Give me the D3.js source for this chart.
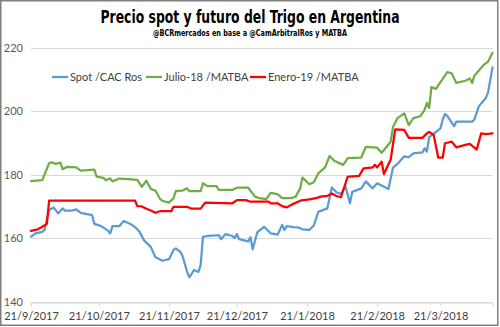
<!DOCTYPE html>
<html>
<head>
<meta charset="utf-8">
<script src="https://cdn.jsdelivr.net/npm/d3@7"></script>
<style>
  body { margin: 0; background: #fff; }
  svg { display: block; }
</style>
</head>
<body>
<div id="grafico"></div>
<script>
// Precios (U$S/t) por fecha
const spot = [
  ["2017-09-21",160.5],["2017-09-23",161.5],["2017-09-26",162.0],["2017-09-27",162.6],["2017-09-29",168.9],
  ["2017-10-01",169.7],["2017-10-03",167.8],["2017-10-05",169.4],["2017-10-06",168.7],["2017-10-09",168.7],
  ["2017-10-11",169.1],["2017-10-13",168.0],["2017-10-18",167.3],["2017-10-19",164.5],["2017-10-22",163.8],
  ["2017-10-25",162.4],["2017-10-26",161.5],["2017-10-27",163.8],["2017-10-30",163.8],["2017-11-01",165.4],
  ["2017-11-04",164.5],["2017-11-06",163.5],["2017-11-08",162.0],["2017-11-10",159.3],["2017-11-13",157.2],
  ["2017-11-15",154.0],["2017-11-16",153.7],["2017-11-18",152.9],["2017-11-21",153.4],["2017-11-23",156.3],
  ["2017-11-24",156.8],["2017-11-26",155.7],["2017-11-27",154.4],["2017-11-29",149.4],["2017-11-30",147.7],
  ["2017-12-01",148.7],["2017-12-02",150.0],["2017-12-04",149.4],["2017-12-05",151.6],["2017-12-06",160.4],
  ["2017-12-08",160.7],["2017-12-12",160.9],["2017-12-13",161.0],["2017-12-14",159.7],["2017-12-16",161.3],
  ["2017-12-19",160.7],["2017-12-20",160.0],["2017-12-21",161.3],["2017-12-22",159.7],["2017-12-26",159.0],
  ["2017-12-27",160.3],["2017-12-28",156.5],["2017-12-30",161.8],["2018-01-02",163.6],["2018-01-05",161.5],
  ["2018-01-08",161.1],["2018-01-10",164.2],["2018-01-11",162.6],["2018-01-12",163.8],["2018-01-15",163.5],
  ["2018-01-17",163.4],["2018-01-19",162.8],["2018-01-22",162.6],["2018-01-24",164.0],["2018-01-26",168.3],
  ["2018-01-30",169.4],["2018-02-01",176.0],["2018-02-03",174.5],["2018-02-05",173.9],["2018-02-07",176.3],
  ["2018-02-09",171.0],["2018-02-10",174.6],["2018-02-14",175.7],["2018-02-16",177.9],["2018-02-19",175.7],
  ["2018-02-21",177.3],["2018-02-26",175.5],["2018-02-28",182.2],["2018-03-02",183.4],["2018-03-05",185.8],
  ["2018-03-07",185.5],["2018-03-09",186.7],["2018-03-13",187.0],["2018-03-14",188.3],["2018-03-15",187.3],
  ["2018-03-16",191.8],["2018-03-19",193.5],["2018-03-21",194.6],["2018-03-22",197.4],["2018-03-23",199.1],
  ["2018-03-24",198.5],["2018-03-27",195.3],["2018-03-28",196.7],["2018-04-04",196.7],["2018-04-05",197.4],
  ["2018-04-07",201.6],["2018-04-10",204.1],["2018-04-11",205.8],["2018-04-13",213.8]
];

const julio18 = [
  ["2017-09-21",178.0],["2017-09-26",178.3],["2017-09-29",183.6],["2017-09-30",183.9],["2017-10-02",183.4],
  ["2017-10-04",183.8],["2017-10-05",181.7],["2017-10-07",182.5],["2017-10-11",182.3],["2017-10-13",181.3],
  ["2017-10-19",181.6],["2017-10-20",179.4],["2017-10-23",179.0],["2017-10-24",178.3],["2017-10-26",178.8],
  ["2017-10-27",177.9],["2017-10-30",178.8],["2017-11-03",178.6],["2017-11-07",178.4],["2017-11-09",176.2],
  ["2017-11-11",178.1],["2017-11-13",175.5],["2017-11-15",175.0],["2017-11-17",172.4],["2017-11-18",171.8],
  ["2017-11-21",171.2],["2017-11-23",172.6],["2017-11-24",174.8],["2017-11-27",175.0],["2017-11-29",175.7],
  ["2017-11-30",174.8],["2017-12-05",174.8],["2017-12-06",177.3],["2017-12-08",176.4],["2017-12-12",176.4],
  ["2017-12-13",175.2],["2017-12-19",175.2],["2017-12-21",175.9],["2017-12-26",175.9],["2017-12-29",173.1],
  ["2017-12-31",172.6],["2018-01-03",172.3],["2018-01-05",174.3],["2018-01-08",173.9],["2018-01-10",172.6],
  ["2018-01-14",172.6],["2018-01-16",173.1],["2018-01-18",175.7],["2018-01-19",179.1],["2018-01-22",177.0],
  ["2018-01-24",177.6],["2018-01-26",180.4],["2018-01-29",182.3],["2018-01-31",185.9],["2018-02-02",184.4],
  ["2018-02-06",183.1],["2018-02-08",185.2],["2018-02-14",185.4],["2018-02-16",188.8],["2018-02-21",188.5],
  ["2018-02-23",186.9],["2018-02-27",190.4],["2018-02-28",195.0],["2018-03-02",197.8],["2018-03-05",199.3],
  ["2018-03-07",195.6],["2018-03-09",197.8],["2018-03-12",198.4],["2018-03-14",200.4],["2018-03-15",202.6],
  ["2018-03-16",201.0],["2018-03-17",207.6],["2018-03-19",207.0],["2018-03-24",212.3],["2018-03-26",211.9],
  ["2018-03-28",208.9],["2018-04-01",209.6],["2018-04-03",210.3],["2018-04-04",208.9],["2018-04-05",211.2],
  ["2018-04-09",214.5],["2018-04-11",215.6],["2018-04-13",218.4]
];

const enero19 = [
  ["2017-09-21",162.3],["2017-09-24",162.8],["2017-09-26",163.6],["2017-09-28",164.5],["2017-09-29",171.8],
  ["2017-11-06",171.8],["2017-11-07",170.1],["2017-11-09",170.0],["2017-11-11",169.3],["2017-11-13",168.7],
  ["2017-11-15",168.0],["2017-11-17",168.5],["2017-11-22",168.5],["2017-11-23",169.9],["2017-11-29",169.9],
  ["2017-12-01",169.3],["2017-12-05",169.3],["2017-12-07",171.2],["2017-12-19",171.0],["2017-12-21",172.0],
  ["2017-12-25",172.0],["2017-12-27",171.5],["2018-01-04",171.5],["2018-01-05",171.0],["2018-01-08",171.0],
  ["2018-01-10",170.1],["2018-01-12",169.7],["2018-01-14",170.5],["2018-01-18",171.8],["2018-01-22",172.2],
  ["2018-01-25",172.6],["2018-01-27",173.1],["2018-01-30",173.3],["2018-02-01",174.1],["2018-02-03",173.3],
  ["2018-02-05",172.9],["2018-02-08",179.4],["2018-02-09",179.4],["2018-02-13",179.6],["2018-02-15",182.0],
  ["2018-02-19",182.3],["2018-02-20",183.1],["2018-02-21",182.3],["2018-02-23",184.1],["2018-02-24",180.2],
  ["2018-02-27",184.8],["2018-03-01",194.3],["2018-03-05",194.1],["2018-03-07",191.6],["2018-03-13",191.6],
  ["2018-03-15",193.0],["2018-03-16",193.5],["2018-03-18",192.5],["2018-03-20",185.4],["2018-03-22",185.4],
  ["2018-03-23",189.9],["2018-03-26",190.4],["2018-03-28",188.6],["2018-04-01",189.4],["2018-04-03",189.7],
  ["2018-04-06",187.9],["2018-04-08",193.0],["2018-04-10",192.8],["2018-04-13",193.0]
];

const series = [
  { name: "Spot /CAC Ros", data: spot, color: "#5b9bd5" },
  { name: "Julio-18 /MATBA", data: julio18, color: "#70ad47" },
  { name: "Enero-19 /MATBA", data: enero19, color: "#ff0000" }
];

const yTicks = [140, 160, 180, 200, 220];
const xTicks = ["2017-09-21","2017-10-21","2017-11-21","2017-12-21","2018-01-21","2018-02-21","2018-03-21"];

const width = 500;
const height = 327;
const parse = d3.utcParse("%Y-%m-%d");
const fmt = d3.utcFormat("%-d/%-m/%Y");

const svg = d3.select("#grafico")
  .append("svg")
  .attr("width", width)
  .attr("height", height);

svg.append("rect")
  .attr("x", 0.75).attr("y", 0.75)
  .attr("width", 497).attr("height", 324.5)
  .attr("fill", "#fff")
  .attr("stroke", "#7f7f7f")
  .attr("stroke-width", 1.5);

// Escalas
const x = d3.scaleUtc()
  .domain([parse("2017-09-21"), parse("2018-04-13")])
  .range([31, 492.5]);

const y = d3.scaleLinear()
  .domain([140, 220])
  .range([301.7, 47.7]);

// Grilla horizontal
svg.append("g")
  .selectAll("line")
  .data(yTicks)
  .join("line")
  .attr("x1", 31).attr("x2", 492.5)
  .attr("y1", d => Math.round(y(d)) + 0.5)
  .attr("y2", d => Math.round(y(d)) + 0.5)
  .attr("stroke", "#d9d9d9")
  .attr("stroke-width", 1);

// Eje Y
svg.append("g")
  .selectAll("text")
  .data(yTicks)
  .join("text")
  .attr("x", 23)
  .attr("y", d => y(d))
  .attr("dy", "0.35em")
  .attr("text-anchor", "end")
  .attr("font-family", "Lato, 'Open Sans', sans-serif")
  .attr("font-size", 11)
  .attr("fill", "#595959")
  .text(d => d);

// Eje X
const xAxis = svg.append("g")
  .attr("transform", `translate(0,${Math.round(y(140)) + 0.5})`)
  .call(d3.axisBottom(x)
    .tickValues(xTicks.map(parse))
    .tickFormat(fmt)
    .tickSize(4)
    .tickPadding(6));

xAxis.select(".domain").attr("stroke", "#d9d9d9");
xAxis.selectAll(".tick line").attr("stroke", "#d9d9d9");
xAxis.selectAll(".tick text")
  .attr("font-family", "Lato, 'Open Sans', sans-serif")
  .attr("font-size", 11)
  .attr("fill", "#404040");

// Líneas
const line = d3.line()
  .x(d => x(parse(d[0])))
  .y(d => y(d[1]));

svg.append("g")
  .selectAll("path")
  .data(series)
  .join("path")
  .attr("d", d => line(d.data))
  .attr("fill", "none")
  .attr("stroke", d => d.color)
  .attr("stroke-width", 2.25)
  .attr("stroke-linejoin", "round")
  .attr("stroke-linecap", "round");

// Leyenda
const legendX = [52, 146, 250];
const legend = svg.append("g")
  .selectAll("g")
  .data(series)
  .join("g")
  .attr("transform", (d, i) => `translate(${legendX[i]},77)`);

legend.append("line")
  .attr("x1", 0).attr("x2", 16)
  .attr("stroke", d => d.color)
  .attr("stroke-width", 2.25);

legend.append("text")
  .attr("x", 18)
  .attr("dy", "0.35em")
  .attr("font-family", "Lato, 'Open Sans', sans-serif")
  .attr("font-size", 11)
  .attr("fill", "#404040")
  .text(d => d.name);

// Títulos
svg.append("text")
  .attr("x", 250)
  .attr("y", 23)
  .attr("text-anchor", "middle")
  .attr("font-family", "'DejaVu Sans Condensed', 'DejaVu Sans', sans-serif")
  .attr("font-stretch", "condensed")
  .attr("font-weight", "bold")
  .attr("font-size", 17)
  .attr("textLength", 299)
  .attr("lengthAdjust", "spacingAndGlyphs")
  .attr("fill", "#000")
  .text("Precio spot y futuro del Trigo en Argentina");

svg.append("text")
  .attr("x", 250)
  .attr("y", 36)
  .attr("text-anchor", "middle")
  .attr("font-family", "'DejaVu Sans Condensed', 'DejaVu Sans', sans-serif")
  .attr("font-stretch", "condensed")
  .attr("font-weight", "bold")
  .attr("font-size", 8.5)
  .attr("textLength", 194)
  .attr("lengthAdjust", "spacingAndGlyphs")
  .attr("fill", "#000")
  .text("@BCRmercados en base a @CamArbitralRos y MATBA");
</script>
</body>
</html>
